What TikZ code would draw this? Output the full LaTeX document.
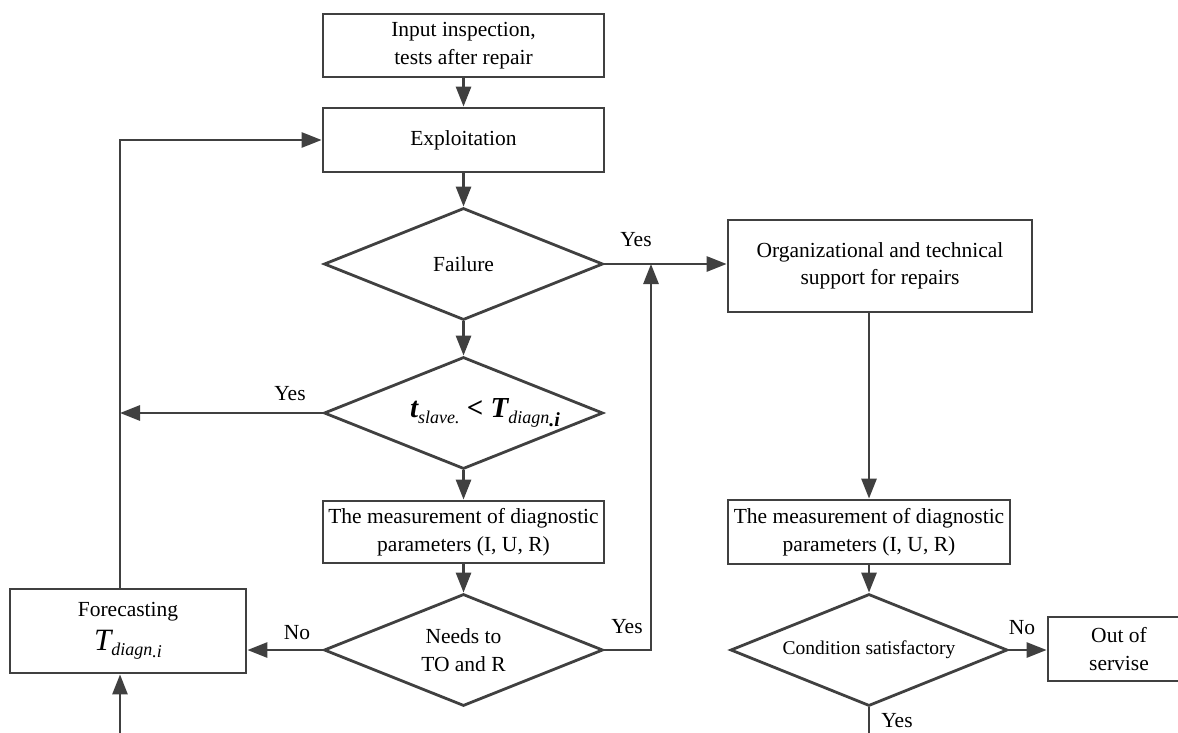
\documentclass[tikz,border=0pt]{standalone}
\usepackage{fontspec}
\setmainfont{Liberation Serif}
\usetikzlibrary{shapes.geometric,arrows.meta}
\definecolor{ln}{HTML}{404040}
\begin{document}
\begin{tikzpicture}[x=1pt,y=-1pt,
  every node/.style={font=\fontsize{21.5}{27.5}\selectfont, text=black},
  box/.style={draw=ln, line width=2.8pt, rectangle, align=center, inner sep=0pt},
  dia/.style={draw=ln, line width=2.8pt, diamond, aspect=2.5, align=center, inner sep=0pt, minimum width=279pt, minimum height=112pt},
  con/.style={draw=ln, line width=2.8pt},
  arr/.style={con, -{Triangle[length=20pt,width=15pt]}},
  lab/.style={font=\fontsize{21.5}{24}\selectfont, inner sep=0pt}
]
\useasboundingbox (0,0) rectangle (1178,733);
\clip (0,0) rectangle (1178,733);

% left column
\node[box, minimum width=281pt, minimum height=63pt] (b1) at (463.5,45.5) {Input inspection,\\tests after repair};
\node[box, minimum width=281pt, minimum height=64pt] (b2) at (463.5,140) {Exploitation};
\node[dia] (d1) at (463.5,264) {Failure};
\node[dia] (d2) at (463.5,413) {};
\node[inner sep=0pt] (d2t) at (485,413) {\fontsize{29}{29}\selectfont\bfseries\itshape t\raisebox{-0.4ex}{\fontsize{18}{18}\selectfont\mdseries slave.} {<} T\raisebox{-0.4ex}{\fontsize{18}{18}\selectfont\mdseries diagn\raisebox{-0.35ex}{\fontsize{20}{20}\selectfont\bfseries .i}}};
\node[box, minimum width=281pt, minimum height=62pt] (m1) at (463.5,532) {The measurement of diagnostic\\parameters (I, U, R)};
\node[dia] (d3) at (463.5,650) {Needs to\\TO and R};
\node[box, minimum width=236pt, minimum height=84pt] (fc) at (128,631) {Forecasting\\[7pt]{\fontsize{31}{31}\selectfont\itshape T\raisebox{-0.35ex}{\fontsize{18}{18}\selectfont diagn\raisebox{-0.2ex}{.i}}}};

% right column
\node[box, minimum width=304pt, minimum height=92pt] (org) at (880,266) {Organizational and technical\\support for repairs};
\node[box, minimum width=282pt, minimum height=64pt] (m2) at (869,532) {The measurement of diagnostic\\parameters (I, U, R)};
\node[dia, minimum width=277pt, font=\fontsize{19.5}{24}\selectfont] (d4) at (869,650) {Condition satisfactory};
\node[box, minimum width=142pt, minimum height=64pt] (out) at (1119,649) {Out of\\servise};

% helper coordinates
\coordinate (lx) at (120,413);
\coordinate (ltop) at (120,140);
\coordinate (lbot) at (120,733);
\coordinate (rx) at (651,650);
\coordinate (ry) at (651,264);
\coordinate (yb) at (869,733);

% connectors
\draw[arr] (b1) -- (b2);
\draw[arr] (b2) -- (d1);
\draw[arr] (d1.east) -- (d1.east -| org.west);
\draw[arr] (d1) -- (d2);
\draw[arr] (d2.west) -- (lx);
\draw[arr] (lx |- fc.north) -- (ltop) -- (b2.west);
\draw[arr] (lbot) -- (lbot |- fc.south);
\draw[arr] (d2) -- (m1);
\draw[arr] (m1) -- (d3);
\draw[arr] (d3.west) -- (d3.west -| fc.east);
\draw[arr] (d3.east) -- (rx) -- (ry);
\draw[arr] (org.south -| m2.north) -- (m2.north);
\draw[arr] (m2) -- (d4);
\draw[arr] (d4.east) -- (out.west |- d4.east);
\draw[con] (d4.south) -- (yb);

% labels
\node[lab] (l1) at (636,240) {Yes};
\node[lab] (l2) at (290,394) {Yes};
\node[lab] (l3) at (297,633) {No};
\node[lab] (l4) at (627,627) {Yes};
\node[lab] (l5) at (1022,628) {No};
\node[lab] (l6) at (897,721) {Yes};
\end{tikzpicture}
\end{document}
